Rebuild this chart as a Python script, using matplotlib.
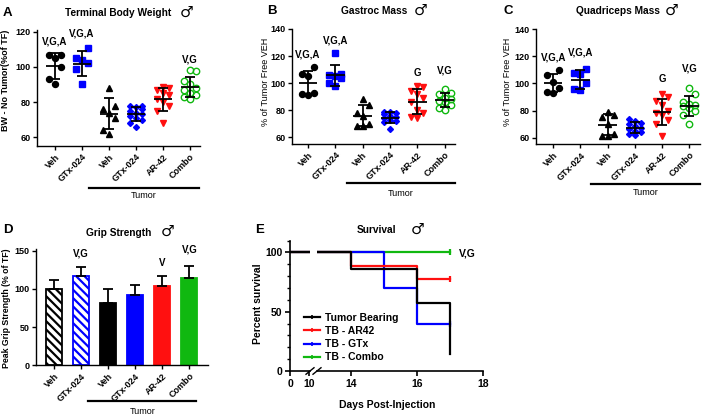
import numpy as np
import matplotlib
matplotlib.use('Agg')
import matplotlib.pyplot as plt
from matplotlib.lines import Line2D

plt.rcParams['font.family'] = ['Liberation Sans', 'DejaVu Sans']
plt.rcParams['hatch.linewidth'] = 1.6
plt.rcParams['axes.linewidth'] = 1.0

# ---------------- data ----------------
groups = ['Veh', 'GTx-024', 'Veh', 'GTx-024', 'AR-42', 'Combo']

# Panel A: terminal body weight (% of TF)
a_veh = [107, 107, 105, 100, 93, 90]
a_gtx = [111, 105, 104, 102, 99, 90]
a_tveh = [88, 78, 76, 74, 71, 64, 62]
a_tgtx = [78, 77.5, 77, 76, 75, 74, 73, 72, 71, 70, 68, 65.5]
a_ar42 = [88.5, 88, 87, 85, 84, 82, 80, 78, 75, 68]
a_combo = [98, 97.5, 92, 90, 88, 87, 85, 84, 83, 82]

# Panel B: gastroc mass
b_veh = [112, 107, 105, 93, 92, 91]
b_gtx = [122, 107, 106, 105, 104, 100, 98]
b_tveh = [88, 84, 78, 76, 70, 68, 68]
b_tgtx = [79, 78.5, 78, 77, 76, 75, 74, 73, 72, 71, 66]
b_ar42 = [98, 97, 94, 92, 89, 86, 80, 78, 75, 74]
b_combo = [96, 93, 92, 89, 88, 87, 86, 84, 82, 80]

# Panel C: quadriceps mass
c_veh = [110, 106, 101, 97, 94, 93]
c_gtx = [111, 108, 107, 100, 96, 95]
c_tveh = [79, 77, 75, 70, 63, 61.5, 61.5]
c_tgtx = [73.5, 72, 71, 70, 68.5, 67, 66, 65, 64, 63, 62]
c_ar42 = [92, 90, 87, 84, 80, 78, 77, 73, 70, 61]
c_combo = [97, 92, 86, 85, 84, 83, 82, 80, 77, 70]

# Panel D: grip strength
grip_mean = [100, 117, 81, 92, 104, 115]
grip_sd = [12, 12, 19, 13, 13, 15]

# Panel E: survival
tb_days = [0, 14, 16, 17]
tb_surv = [100, 85.7, 57.1, 14.3]
ar_days = [0, 14, 16, 17]
ar_surv = [100, 88.9, 77.8, 77.8]
gtx_days = [0, 15, 16, 17]
gtx_surv = [100, 70, 40, 40]
combo_days = [0, 17]
combo_surv = [100, 100]
surv_labels = ['Tumor Bearing', 'TB - AR42', 'TB - GTx', 'TB - Combo']

# significance labels
a_sig = ['V,G,A', 'V,G,A', '', '', '', 'V,G']
bc_sig = ['V,G,A', 'V,G,A', '', '', 'G', 'V,G']
d_sig = ['', 'V,G', '', '', 'V', 'V,G']

# ---------------- style ----------------
BLACK = '#000000'
BLUE = '#0000FF'
RED = '#FF1010'
GREEN = '#10B810'
markers = ['o', 's', '^', 'D', 'v', 'o']
mfcs = [BLACK, BLUE, BLACK, BLUE, RED, 'none']
mecs = [BLACK, BLUE, BLACK, BLUE, RED, GREEN]
msizes = [4.3, 4.3, 4.3, 3.0, 4.3, 4.6]

W, H = 709, 418
fig = plt.figure(figsize=(W / 100, H / 100), dpi=100)


def rect(l, t, r, b):
    return [l / W, 1 - b / H, (r - l) / W, (b - t) / H]


def ftext(x, y, s, **kw):
    fig.text(x / W, 1 - y / H, s, **kw)


def style_axes(ax, ysize=6.5):
    for s in ['top', 'right']:
        ax.spines[s].set_visible(False)
    ax.tick_params(axis='both', direction='out', length=3, width=1.0, pad=1.5)
    ax.tick_params(axis='y', labelsize=ysize)
    for lab in ax.get_yticklabels():
        lab.set_fontweight('bold')


def set_xlabels(ax):
    ax.set_xticks(range(len(groups)))
    ax.set_xticklabels(groups, rotation=45, ha='right', va='top',
                       rotation_mode='anchor', fontsize=6.5, fontweight='bold')


def tumor_bracket(ax, x0, x1, yline, ytext):
    tr = ax.get_xaxis_transform()
    ax.plot([x0, x1], [yline, yline], color='k', lw=1.6, transform=tr, clip_on=False)
    ax.text((x0 + x1) / 2, ytext, 'Tumor', transform=tr, ha='center', va='center',
            fontsize=6.5)


def scatter_panel(ax, data, sig, sig_y):
    for i, vals in enumerate(data):
        vals = np.asarray(vals, dtype=float)
        order = np.argsort(vals)
        offs = np.zeros(len(vals))
        pattern = [0.0, -0.22, 0.22]
        for rank, idx in enumerate(order):
            offs[idx] = pattern[rank % 3]
        ax.plot(i + offs, vals, ls='none', marker=markers[i], ms=msizes[i],
                mfc=mfcs[i], mec=mecs[i], mew=1.0, zorder=2)
        m, s = vals.mean(), vals.std(ddof=1)
        kw = dict(color='k', lw=1.3, zorder=3, solid_capstyle='butt')
        ax.plot([i - 0.34, i + 0.34], [m, m], **kw)
        ax.plot([i, i], [m - s, m + s], **kw)
        ax.plot([i - 0.18, i + 0.18], [m + s, m + s], **kw)
        ax.plot([i - 0.18, i + 0.18], [m - s, m - s], **kw)
        if sig[i]:
            ax.text(i, sig_y[i], sig[i], ha='center', va='center', fontsize=7,
                    fontweight='bold', clip_on=False)


# ---------------- Panel A ----------------
axA = fig.add_axes(rect(37, 30, 200, 146))
scatter_panel(axA, [a_veh, a_gtx, a_tveh, a_tgtx, a_ar42, a_combo], a_sig,
              [114.3, 118.9, 0, 0, 0, 104])
axA.set_xlim(-0.667, 5.37)
axA.set_ylim(54.9, 121.1)
axA.set_yticks([60, 80, 100, 120])
style_axes(axA)
set_xlabels(axA)
tumor_bracket(axA, 1.26, 5.33, -0.362, -0.43)

# ---------------- Panel B ----------------
axB = fig.add_axes(rect(291.7, 29, 455, 144))
scatter_panel(axB, [b_veh, b_gtx, b_tveh, b_tgtx, b_ar42, b_combo], bc_sig,
              [120.8, 131.4, 0, 0, 107.7, 109.2])
axB.set_xlim(-0.6, 5.38)
axB.set_ylim(55.05, 140)
axB.set_yticks([60, 80, 100, 120, 140])
style_axes(axB)
set_xlabels(axB)
tumor_bracket(axB, 1.42, 5.38, -0.339, -0.43)

# ---------------- Panel C ----------------
axC = fig.add_axes(rect(535.7, 29.3, 700, 144.3))
scatter_panel(axC, [c_veh, c_gtx, c_tveh, c_tgtx, c_ar42, c_combo], bc_sig,
              [119.3, 123, 0, 0, 103, 110.8])
axC.set_xlim(-0.64, 5.39)
axC.set_ylim(55.05, 140)
axC.set_yticks([60, 80, 100, 120, 140])
style_axes(axC)
set_xlabels(axC)
tumor_bracket(axC, 1.375, 5.39, -0.345, -0.42)

# ---------------- Panel D ----------------
axD = fig.add_axes(rect(36, 249.3, 208.3, 365.3))
xs = np.arange(len(groups))
faces = ['white', 'white', BLACK, BLUE, RED, GREEN]
edges = [BLACK, BLUE, BLACK, BLUE, RED, GREEN]
hatches = ['\\\\\\\\', '\\\\\\\\', None, None, None, None]
for i in range(len(groups)):
    axD.bar(xs[i], grip_mean[i], width=0.6, color=faces[i], edgecolor=edges[i],
            hatch=hatches[i], linewidth=1.3, zorder=2)
axD.errorbar(xs, grip_mean, yerr=[np.zeros(len(xs)), grip_sd], fmt='none',
             ecolor='k', elinewidth=1.3, capsize=3.6, capthick=1.3, zorder=3)
d_sig_y = [0, 146.6, 0, 0, 133.5, 151.8]
for i, s in enumerate(d_sig):
    if s:
        axD.text(xs[i], d_sig_y[i], s, ha='center', va='center',
                 fontsize=7, fontweight='bold', clip_on=False)
axD.set_xlim(-0.667, 5.7)
axD.set_ylim(0, 152)
axD.set_yticks([0, 50, 100, 150])
style_axes(axD)
set_xlabels(axD)
tumor_bracket(axD, 1.26, 5.26, -0.308, -0.40)

# ---------------- Panel E ----------------
axE1 = fig.add_axes(rect(290.3, 240.6, 310, 371))
axE2 = fig.add_axes(rect(317, 240.6, 483.3, 371))
curves = [(combo_days, combo_surv, GREEN, True),
          (gtx_days, gtx_surv, BLUE, True),
          (ar_days, ar_surv, RED, True),
          (tb_days, tb_surv, BLACK, False)]
for ax in (axE1, axE2):
    for d, sv, col, cens in curves:
        ax.step(d, sv, where='post', color=col, lw=1.6)
        if cens:
            ax.plot(d[-1], sv[-1], marker='|', ms=4.5, mew=1.6, color=col, ls='none')
    ax.set_ylim(0, 110)
axE1.set_xlim(0, 10.37)
axE2.set_xlim(12.97, 18)
axE1.set_xticks([0, 10])
axE2.set_xticks([14, 16, 18])
axE1.set_yticks([0, 50, 100])
axE1.set_yticks(np.arange(0, 111, 10), minor=True)
for ax in (axE1, axE2):
    for s in ['top', 'right']:
        ax.spines[s].set_visible(False)
    ax.tick_params(axis='both', direction='out', length=3.5, width=1.2, labelsize=7.5, pad=2)
    ax.tick_params(axis='y', which='minor', length=2, width=1.0)
    ax.spines['bottom'].set_linewidth(1.2)
    ax.spines['left'].set_linewidth(1.2)
    for lab in ax.get_xticklabels() + ax.get_yticklabels():
        lab.set_fontweight('bold')
axE2.spines['left'].set_visible(False)
axE2.tick_params(axis='y', which='both', left=False, labelleft=False)
# break marks
for ax, xa in ((axE1, 1.0), (axE2, 0.0)):
    tr = ax.transAxes
    dx = 4.0 / (ax.get_position().width * W)
    ax.plot([xa - dx, xa + dx], [-0.025, 0.025], color='k', lw=1.0,
            transform=tr, clip_on=False)
axE2.text(17.27, 98.7, 'V,G', ha='left', va='center', fontsize=7.5, fontweight='bold')
handles = [Line2D([0], [0], color=c, lw=1.6, marker='|', ms=3.5, mew=1.2)
           for c in [BLACK, RED, BLUE, GREEN]]
fig.legend(handles, surv_labels, loc='upper left', bbox_to_anchor=(304 / W, 1 - 313 / H),
           frameon=False, prop={'size': 7.5, 'weight': 'bold'}, handlelength=1.55,
           handletextpad=0.5, labelspacing=0.3, borderpad=0, borderaxespad=0,
           numpoints=1)

# ---------------- titles, letters, axis labels ----------------
letter_kw = dict(fontsize=9.5, fontweight='bold', va='center', ha='left')
ftext(3, 13, 'A', **letter_kw)
ftext(267, 11, 'B', **letter_kw)
ftext(503, 11, 'C', **letter_kw)
ftext(3, 230, 'D', **letter_kw)
ftext(255, 230, 'E', **letter_kw)

title_kw = dict(fontsize=7.3, fontweight='bold', va='center', ha='left')
sym_kw = dict(fontsize=11, fontweight='bold', va='center', ha='left',
              family=['DejaVu Sans'])
ftext(65, 13, 'Terminal Body Weight', **title_kw)
ftext(180, 12, '\u2642', **sym_kw)
ftext(341, 11, 'Gastroc Mass', **title_kw)
ftext(414, 10, '\u2642', **sym_kw)
ftext(576, 11, 'Quadriceps Mass', **title_kw)
ftext(665, 10, '\u2642', **sym_kw)
ftext(86, 232.7, 'Grip Strength', **title_kw)
ftext(161, 231.7, '\u2642', **sym_kw)
ftext(357, 230, 'Survival', **title_kw)
ftext(411, 229, '\u2642', **sym_kw)

ftext(6, 80, 'BW - No Tumor(%of TF)', rotation=90, fontsize=6.5, fontweight='bold',
      ha='center', va='center')
ftext(266, 82, '% of Tumor Free VEH', rotation=90, fontsize=6.5,
      ha='center', va='center')
ftext(507, 82, '% of Tumor Free VEH', rotation=90, fontsize=6.5,
      ha='center', va='center')
ftext(7, 308, 'Peak Grip Strength (% of TF)', rotation=90, fontsize=6.3,
      fontweight='bold', ha='center', va='center')
ftext(258, 304, 'Percent survival', rotation=90, fontsize=7.5, fontweight='bold',
      ha='center', va='center')
ftext(387, 405, 'Days Post-Injection', fontsize=7.5, fontweight='bold',
      ha='center', va='center')

fig.savefig('out.png', dpi=100)
